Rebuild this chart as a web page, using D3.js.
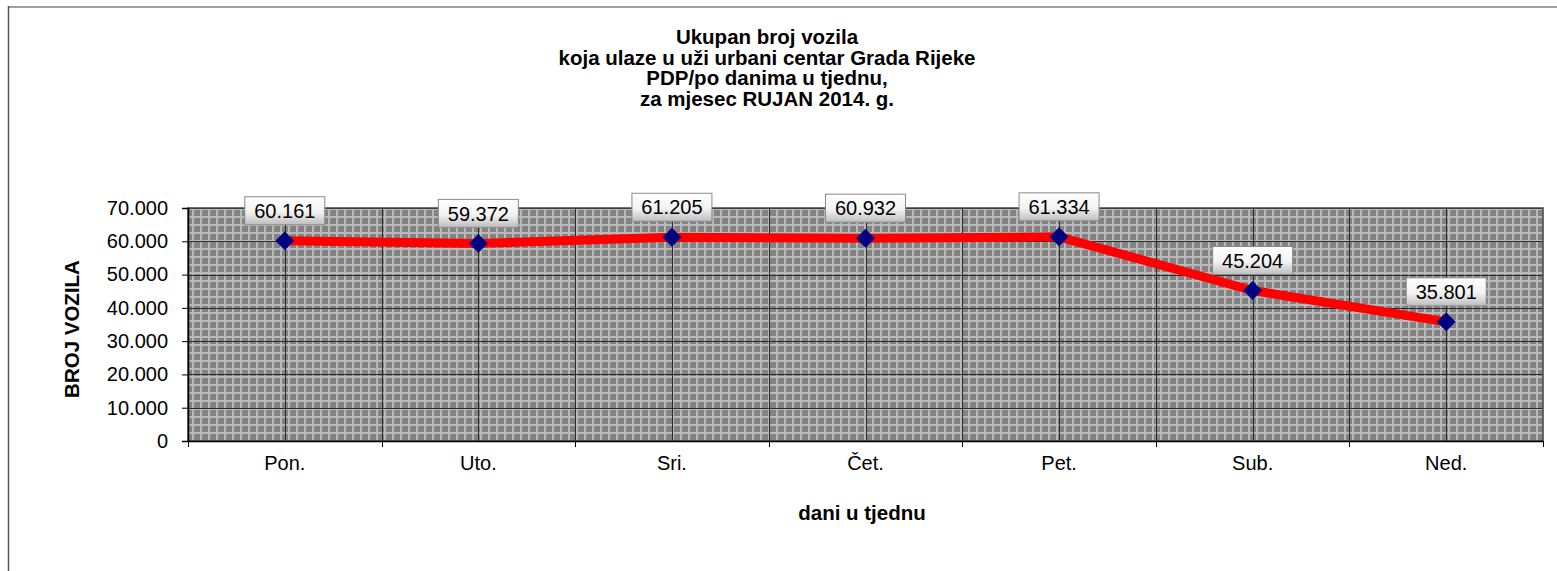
<!DOCTYPE html>
<html>
<head>
<meta charset="utf-8">
<script src="https://cdn.jsdelivr.net/npm/d3@7"></script>
<style>
  body { margin: 0; background: #fff; }
  text { font-family: "Liberation Sans", Arial, sans-serif; }
</style>
</head>
<body>
<div id="chart"></div>
<script>
// data
var days = ["Pon.", "Uto.", "Sri.", "Čet.", "Pet.", "Sub.", "Ned."];
var vehicles = [60161, 59372, 61205, 60932, 61334, 45204, 35801];
var yTicks = [0, 10000, 20000, 30000, 40000, 50000, 60000, 70000];
var titleLines = ["Ukupan broj vozila", "koja ulaze u uži urbani centar Grada Rijeke",
                  "PDP/po danima u tjednu,", "za mjesec RUJAN 2014. g."];

var svgWidth = 1557, svgHeight = 571;
var margin = {top: 208, right: 14, bottom: 130, left: 188};
var width = svgWidth - margin.left - margin.right;
var height = svgHeight - margin.top - margin.bottom;

var fmt = function(v) {
  return v === 0 ? "0" : d3.format(",")(v).replace(/,/g, ".");
};

var svg = d3.select("#chart").append("svg")
  .attr("width", svgWidth).attr("height", svgHeight);

var defs = svg.append("defs");
var pat = defs.append("pattern").attr("id", "grid")
  .attr("patternUnits", "userSpaceOnUse")
  .attr("width", 8).attr("height", 8)
  .attr("x", margin.left).attr("y", margin.top);
pat.append("rect").attr("width", 8).attr("height", 8).attr("fill", "#b9b9b9");
pat.append("rect").attr("x", 2).attr("y", 2).attr("width", 6).attr("height", 6).attr("fill", "#838383");

var grad = defs.append("linearGradient").attr("id", "lbl")
  .attr("x1", 0).attr("y1", 0).attr("x2", 0).attr("y2", 1);
grad.append("stop").attr("offset", "0%").attr("stop-color", "#ffffff");
grad.append("stop").attr("offset", "55%").attr("stop-color", "#f2f2f2");
grad.append("stop").attr("offset", "100%").attr("stop-color", "#bdbdbd");

// outer frame
svg.append("line").attr("x1", 8).attr("y1", 7).attr("x2", svgWidth).attr("y2", 7)
  .attr("stroke", "#a0a0a0").attr("stroke-width", 2);
svg.append("line").attr("x1", 8.5).attr("y1", 6).attr("x2", 8.5).attr("y2", svgHeight)
  .attr("stroke", "#555").attr("stroke-width", 1.5);

// title
svg.append("text").attr("x", 767).attr("y", 44)
  .attr("text-anchor", "middle").style("font-size", "20.5px").style("font-weight", "bold")
  .selectAll("tspan").data(titleLines).enter().append("tspan")
  .attr("x", 767).attr("dy", function(d, i) { return i === 0 ? 0 : 20.5; })
  .text(function(d) { return d; });

var g = svg.append("g").attr("transform", `translate(${margin.left}, ${margin.top})`);

var x = d3.scaleBand().domain(days).range([0, width]);
var y = d3.scaleLinear().domain([0, 70000]).range([height, 0]);

// plot background
g.append("rect").attr("width", width).attr("height", height).attr("fill", "url(#grid)");

// gridlines
g.selectAll(".hgrid").data(yTicks).enter().append("line")
  .attr("x1", 0).attr("x2", width)
  .attr("y1", function(d) { return Math.round(y(d)) + 0.5; })
  .attr("y2", function(d) { return Math.round(y(d)) + 0.5; })
  .attr("stroke", "#2a2a2a").attr("stroke-width", 1);

var vpos = [];
days.forEach(function(d) {
  vpos.push(x(d));
  vpos.push(x(d) + x.bandwidth() / 2);
});
g.selectAll(".vgrid").data(vpos).enter().append("line")
  .attr("x1", function(d) { return Math.round(d) + 0.5; })
  .attr("x2", function(d) { return Math.round(d) + 0.5; })
  .attr("y1", 0).attr("y2", height)
  .attr("stroke", "#2a2a2a").attr("stroke-width", 1);

g.append("rect").attr("width", width).attr("height", height)
  .attr("fill", "none").attr("stroke", "#444").attr("stroke-width", 1.5);

// axes
var yAxis = g.append("g").call(d3.axisLeft(y).tickValues(yTicks).tickFormat(fmt).tickSize(6).tickPadding(14));
yAxis.select(".domain").attr("stroke", "#000").attr("stroke-width", 1.5);
yAxis.selectAll("text").style("font-size", "20px").attr("fill", "#000");

var xAxis = g.append("g").attr("transform", `translate(0, ${height})`)
  .call(d3.axisBottom(x).tickSize(0).tickPadding(15));
xAxis.select(".domain").attr("stroke", "#000").attr("stroke-width", 1.5);
xAxis.selectAll("text").style("font-size", "20px").attr("fill", "#000");
g.selectAll(".xtick").data(days.concat(["end"])).enter().append("line")
  .attr("x1", function(d, i) { return Math.round(i * x.bandwidth()) + 0.5; })
  .attr("x2", function(d, i) { return Math.round(i * x.bandwidth()) + 0.5; })
  .attr("y1", height).attr("y2", height + 6)
  .attr("stroke", "#000");

// axis titles
svg.append("text").attr("transform", "translate(79, 329) rotate(-90)")
  .attr("text-anchor", "middle").style("font-size", "20.5px").style("font-weight", "bold")
  .text("BROJ VOZILA");
svg.append("text").attr("x", 862).attr("y", 520)
  .attr("text-anchor", "middle").style("font-size", "20.5px").style("font-weight", "bold")
  .text("dani u tjednu");

// line
var cx = function(d, i) { return x(days[i]) + x.bandwidth() / 2; };
var line = d3.line().x(cx).y(function(d) { return y(d); });
g.append("path").datum(vehicles).attr("d", line)
  .attr("fill", "none").attr("stroke", "#ff0000").attr("stroke-width", 9)
  .attr("stroke-linejoin", "round");

// markers
g.selectAll(".mk").data(vehicles).enter().append("path")
  .attr("d", d3.symbol().type(d3.symbolDiamond2).size(230))
  .attr("transform", function(d, i) { return `translate(${cx(d, i)}, ${y(d)})`; })
  .attr("fill", "#000080");

// labels
var lbl = g.selectAll(".lbl").data(vehicles).enter().append("g")
  .attr("transform", function(d, i) { return `translate(${cx(d, i)}, ${y(d) - 30})`; });
lbl.append("rect").attr("x", -40).attr("y", -14).attr("width", 80).attr("height", 28)
  .attr("fill", "url(#lbl)").attr("stroke", "#8a8a8a").attr("stroke-width", 1);
lbl.append("text").attr("text-anchor", "middle").attr("dy", "0.36em")
  .style("font-size", "20px").attr("fill", "#000")
  .text(function(d) { return fmt(d); });
</script>
</body>
</html>
